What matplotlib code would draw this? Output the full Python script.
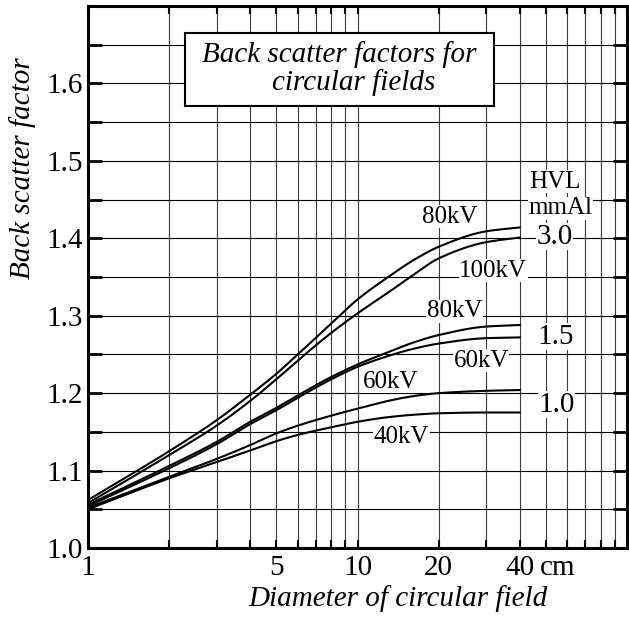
import numpy as np
import matplotlib
matplotlib.use("Agg")
import matplotlib.pyplot as plt
from matplotlib.patches import Rectangle
from matplotlib.ticker import FixedLocator, NullFormatter, MultipleLocator

plt.rcParams['font.family'] = ['Liberation Serif', 'DejaVu Serif']

# field diameter (cm) -> back scatter factor
x_pts = [1, 2, 3, 4, 5, 6, 8, 10, 13, 16, 20, 30, 40]

hvl30_80kv = [1.062, 1.125, 1.165, 1.198, 1.225, 1.250, 1.290, 1.321, 1.350, 1.371, 1.389, 1.409, 1.414]
hvl30_100kv = [1.058, 1.120, 1.158, 1.190, 1.218, 1.242, 1.278, 1.303, 1.330, 1.352, 1.374, 1.395, 1.401]
hvl15_80kv = [1.056, 1.106, 1.137, 1.163, 1.181, 1.197, 1.221, 1.237, 1.253, 1.265, 1.275, 1.286, 1.288]
hvl15_60kv = [1.054, 1.103, 1.134, 1.160, 1.178, 1.194, 1.218, 1.234, 1.248, 1.257, 1.264, 1.271, 1.272]
hvl10_60kv = [1.052, 1.092, 1.115, 1.133, 1.148, 1.158, 1.171, 1.180, 1.190, 1.196, 1.200, 1.203, 1.204]
hvl10_40kv = [1.050, 1.090, 1.111, 1.126, 1.138, 1.146, 1.156, 1.163, 1.169, 1.172, 1.174, 1.175, 1.175]

curves = [hvl30_80kv, hvl30_100kv, hvl15_80kv, hvl15_60kv, hvl10_60kv, hvl10_40kv]

x_ticks = [1, 5, 10, 20, 40]
x_ticklabels = ["1", "5", "10", "20", "40"]
y_ticks = [1.0, 1.1, 1.2, 1.3, 1.4, 1.5, 1.6]
y_ticklabels = ["1.0", "1.1", "1.2", "1.3", "1.4", "1.5", "1.6"]

# curve labels: (text, x, y)
kv_labels = [("80kV", 21.9, 1.428), ("100kV", 31.9, 1.358), ("80kV", 22.9, 1.306),
             ("60kV", 28.8, 1.242), ("60kV", 13.25, 1.2145), ("40kV", 14.55, 1.143)]
hvl_labels = [("3.0", 53.7, 1.402), ("1.5", 54.6, 1.273), ("1.0", 54.6, 1.185)]


def pchip(x, y, xn):
    # monotone cubic interpolation (Fritsch-Carlson)
    x = np.asarray(x, float)
    y = np.asarray(y, float)
    h = np.diff(x)
    d = np.diff(y) / h
    m = np.zeros_like(y)
    for i in range(1, len(y) - 1):
        if d[i - 1] * d[i] > 0:
            w1 = 2 * h[i] + h[i - 1]
            w2 = h[i] + 2 * h[i - 1]
            m[i] = (w1 + w2) / (w1 / d[i - 1] + w2 / d[i])
    m[0] = d[0]
    m[-1] = d[-1]
    idx = np.clip(np.searchsorted(x, xn) - 1, 0, len(h) - 1)
    t = (xn - x[idx]) / h[idx]
    h00 = 2 * t**3 - 3 * t**2 + 1
    h10 = t**3 - 2 * t**2 + t
    h01 = -2 * t**3 + 3 * t**2
    h11 = t**3 - t**2
    return h00 * y[idx] + h10 * h[idx] * m[idx] + h01 * y[idx + 1] + h11 * h[idx] * m[idx + 1]


fig = plt.figure(figsize=(6.29, 6.17), dpi=100)
ax = fig.add_axes([88 / 629, 69 / 617, 539 / 629, 542 / 617])

ax.set_xscale("log")
ax.set_xlim(1, 100)
ax.set_ylim(1.0, 1.7)

# grid
grid_x = list(range(1, 10)) + list(range(10, 101, 10))
for gx in grid_x:
    ax.axvline(gx, color="#3a3a3a", lw=0.8, zorder=1)
for gy in np.arange(1.05, 1.7, 0.05):
    ax.axhline(gy, color="black", lw=0.8, zorder=1)

lx = np.log10(x_pts)
fine = np.linspace(lx[0], lx[-1], 400)
for c in curves:
    ax.plot(10 ** fine, pchip(lx, c, fine), color="black", lw=1.5, zorder=3)

# ticks
ax.xaxis.set_major_locator(FixedLocator(x_ticks))
ax.set_xticklabels(x_ticklabels)
ax.xaxis.set_minor_locator(FixedLocator([v for v in grid_x if v not in x_ticks]))
ax.xaxis.set_minor_formatter(NullFormatter())
ax.set_yticks(y_ticks)
ax.set_yticklabels(y_ticklabels)
ax.yaxis.set_minor_locator(MultipleLocator(0.05))

ax.tick_params(axis="both", which="both", direction="in", colors="black",
               labelsize=21, top=True, right=True)
ax.tick_params(axis="x", which="both", length=6, width=1.5, pad=5)
ax.tick_params(axis="y", which="both", length=10, width=2, pad=4)

for s in ax.spines.values():
    s.set_linewidth(2.2)

ax.text(47.6, -0.0125, "cm", transform=ax.get_xaxis_transform(), fontsize=21,
        ha="left", va="top")

ax.set_xlabel("Diameter of circular field", fontsize=21, style="italic")
ax.xaxis.set_label_coords(0.575, -0.068)
ax.set_ylabel("Back scatter factor", fontsize=21, style="italic")
ax.yaxis.set_label_coords(-0.097, 0.70)

# title box
ax.add_patch(Rectangle((0.18, 0.8155), 0.573, 0.1345, transform=ax.transAxes,
                       facecolor="white", edgecolor="black", lw=1.5, zorder=5))
ax.text(0.466, 0.885, "Back scatter factors for\n    circular fields", transform=ax.transAxes,
        fontsize=21, style="italic", ha="center", va="center", zorder=6,
        linespacing=1.05)

for t, x, y in kv_labels:
    ax.text(x, y, t, fontsize=18, ha="center", va="center", zorder=4,
            bbox=dict(facecolor="white", edgecolor="none", pad=0.3))

ax.text(54.1, 1.473, "HVL", fontsize=18, ha="center", va="center", zorder=4,
        bbox=dict(facecolor="white", edgecolor="none", pad=0.3))
ax.text(56.5, 1.439, "mmAl", fontsize=18, ha="center", va="center", zorder=4,
        bbox=dict(facecolor="white", edgecolor="none", pad=0.3))
for t, x, y in hvl_labels:
    ax.text(x, y, t, fontsize=21, ha="center", va="center", zorder=4,
            bbox=dict(facecolor="white", edgecolor="none", pad=0.3))

fig.savefig("out.png", dpi=100, facecolor="white")
